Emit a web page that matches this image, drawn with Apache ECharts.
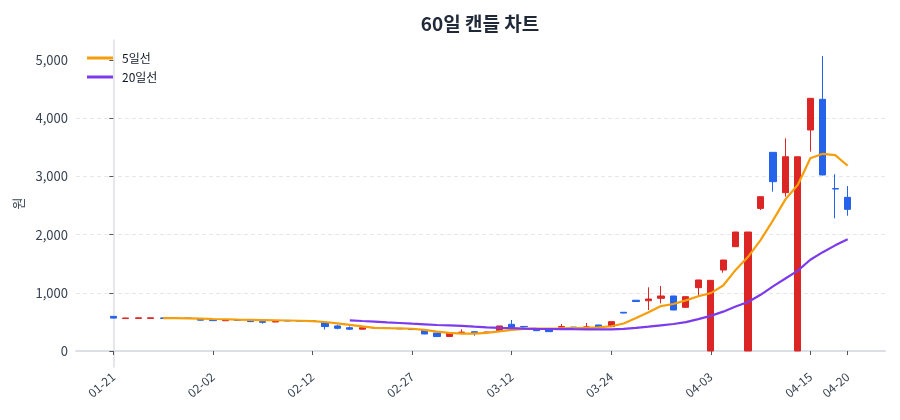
<!DOCTYPE html>
<html>
<head>
<meta charset="utf-8">
<script src="https://cdn.jsdelivr.net/npm/echarts@6/dist/echarts.min.js"></script>
<style>
  html, body { margin: 0; padding: 0; background: #fff; }
  #chart { width: 900px; height: 420px; }
</style>
</head>
<body>
<div id="chart"></div>
<script>
  // 거래일 (60일)
  var dates = ['01-21','01-22','01-23','01-26','01-27','01-28','01-29','01-30','02-02','02-03',
    '02-04','02-05','02-06','02-09','02-10','02-11','02-12','02-13','02-19','02-20',
    '02-23','02-24','02-25','02-26','02-27','03-03','03-04','03-05','03-06','03-09',
    '03-10','03-11','03-12','03-13','03-16','03-17','03-18','03-19','03-20','03-23',
    '03-24','03-25','03-26','03-27','03-30','03-31','04-01','04-02','04-03','04-06',
    '04-07','04-08','04-09','04-10','04-13','04-14','04-15','04-16','04-17','04-20'];

  // 눈금을 표시할 날짜 위치
  var tickIdx = [0, 8, 16, 24, 32, 40, 48, 56, 59];
  var yTicks = [0, 1000, 2000, 3000, 4000, 5000];

  var opens = [595,557,560,560,568,568,566,552,538,520,535,518,505,498,525,520,520,490,430,400,
    375,396,392,388,378,355,309,250,316,331,318,349,458,422,366,366,410,410,408,447,
    418,665,872,864,905,945,750,1088,0,1391,1792,0,2450,3413,2720,0,3797,4324,2790,2640];
  var closes = [565,567,570,570,560,562,560,530,522,530,525,505,492,510,515,515,510,420,390,375,
    400,402,390,380,368,292,248,314,324,304,326,430,406,414,349,332,420,405,414,407,
    504,652,850,893,945,704,933,1220,1214,1563,2044,2044,2651,2909,3337,3337,4341,3024,2783,2434];
  var lows = [560,555,558,558,555,558,556,525,515,518,522,500,470,495,512,512,505,370,372,361,
    370,394,388,378,365,290,245,245,304,263,315,345,400,405,345,330,405,402,400,403,
    415,648,845,704,818,700,745,933,0,1345,1790,0,2422,2737,2651,0,3424,3020,2280,2325];
  var highs = [600,570,572,572,570,568,568,555,540,533,538,520,508,512,528,522,522,500,452,424,
    402,405,394,390,380,358,312,316,372,333,330,432,532,428,368,368,464,412,481,450,
    506,668,875,1094,1117,948,936,1222,1216,1565,2046,2046,2653,3415,3654,3339,4343,5068,3036,2834];

  // 이동평균선
  var ma5 = [null,null,null,null,566,565,562,556,550,545,540,536,532,528,524,520,514,498,474,448,
    422,398,392,390,382,362,334,310,298,298,312,336,364,380,384,384,388,394,398,405,
    425,472,565,664,772,808,870,940,995,1125,1393,1618,1905,2245,2605,2855,3312,3388,3365,3182];
  var ma20 = [null,null,null,null,null,null,null,null,null,null,null,null,null,null,null,null,null,null,null,527,
    515,504,492,481,469,458,447,440,430,418,407,398,392,386,381,378,376,374,373,372,
    373,380,396,418,441,464,496,548,604,676,765,842,965,1110,1245,1380,1568,1698,1815,1920];

  var UP = '#dc2626', DOWN = '#2563eb';
  var FONT = '"Noto Sans CJK KR", "Noto Sans", sans-serif';

  var candles = dates.map(function (d, i) {
    return [i, opens[i], closes[i], lows[i], highs[i]];
  });
  function linePts(arr) {
    var out = [];
    arr.forEach(function (v, i) { if (v != null) out.push([i, v]); });
    return out;
  }

  var chart = echarts.init(document.getElementById('chart'), null, { renderer: 'canvas' });
  chart.setOption({
    animation: false,
    textStyle: { fontFamily: FONT },
    title: {
      text: '60일 캔들 차트',
      left: 475, top: 9, textAlign: 'center',
      textStyle: { fontSize: 19, fontWeight: 'bold', color: '#1f2937', fontFamily: FONT }
    },
    legend: {
      orient: 'vertical', left: 82, top: 46,
      icon: 'rect', itemWidth: 26, itemHeight: 3, itemGap: 5,
      textStyle: { fontSize: 12, color: '#111827', fontFamily: FONT, padding: [0, 0, 0, 4], lineHeight: 14 },
      data: ['5일선', '20일선']
    },
    grid: { left: 76, right: 15, top: 40, bottom: 53 },
    xAxis: {
      type: 'value', min: -3, max: 62,
      axisLine: { show: true, lineStyle: { color: '#dcdfe4', width: 2 } },
      axisTick: { show: true, length: 4, lineStyle: { color: '#555' }, customValues: tickIdx },
      axisLabel: {
        rotate: 40, fontSize: 12, color: '#374151', margin: 8,
        customValues: tickIdx,
        formatter: function (v) { return dates[Math.round(v)]; }
      },
      splitLine: { show: false }
    },
    yAxis: {
      type: 'value', min: -275, max: 5343,
      name: '원', nameLocation: 'middle', nameGap: 48,
      nameTextStyle: { fontSize: 13, color: '#374151', fontFamily: FONT },
      axisLine: { show: true, lineStyle: { color: '#dcdfe4', width: 1.5 } },
      axisTick: { show: true, length: 4, lineStyle: { color: '#555' }, customValues: yTicks },
      axisLabel: {
        fontSize: 13, color: '#374151', margin: 8,
        customValues: yTicks,
        formatter: function (v) { return v.toLocaleString('en-US'); }
      },
      splitLine: {
        show: true, showMinLine: false, showMaxLine: false,
        lineStyle: { color: '#e5e7eb', type: [4, 3], width: 1 }
      }
    },
    series: [
      {
        name: '캔들', type: 'candlestick',
        data: candles,
        encode: { x: 0, y: [1, 2, 3, 4] },
        itemStyle: { color: UP, color0: DOWN, borderColor: UP, borderColor0: DOWN, borderWidth: 1 }
      },
      {
        name: '5일선', type: 'line', data: linePts(ma5),
        symbol: 'none', color: '#f59e0b',
        lineStyle: { width: 2.2, color: '#f59e0b' }
      },
      {
        name: '20일선', type: 'line', data: linePts(ma20),
        symbol: 'none', color: '#7c3aed',
        lineStyle: { width: 2.2, color: '#7c3aed' }
      }
    ]
  });
  window.addEventListener('resize', chart.resize);
</script>
</body>
</html>
